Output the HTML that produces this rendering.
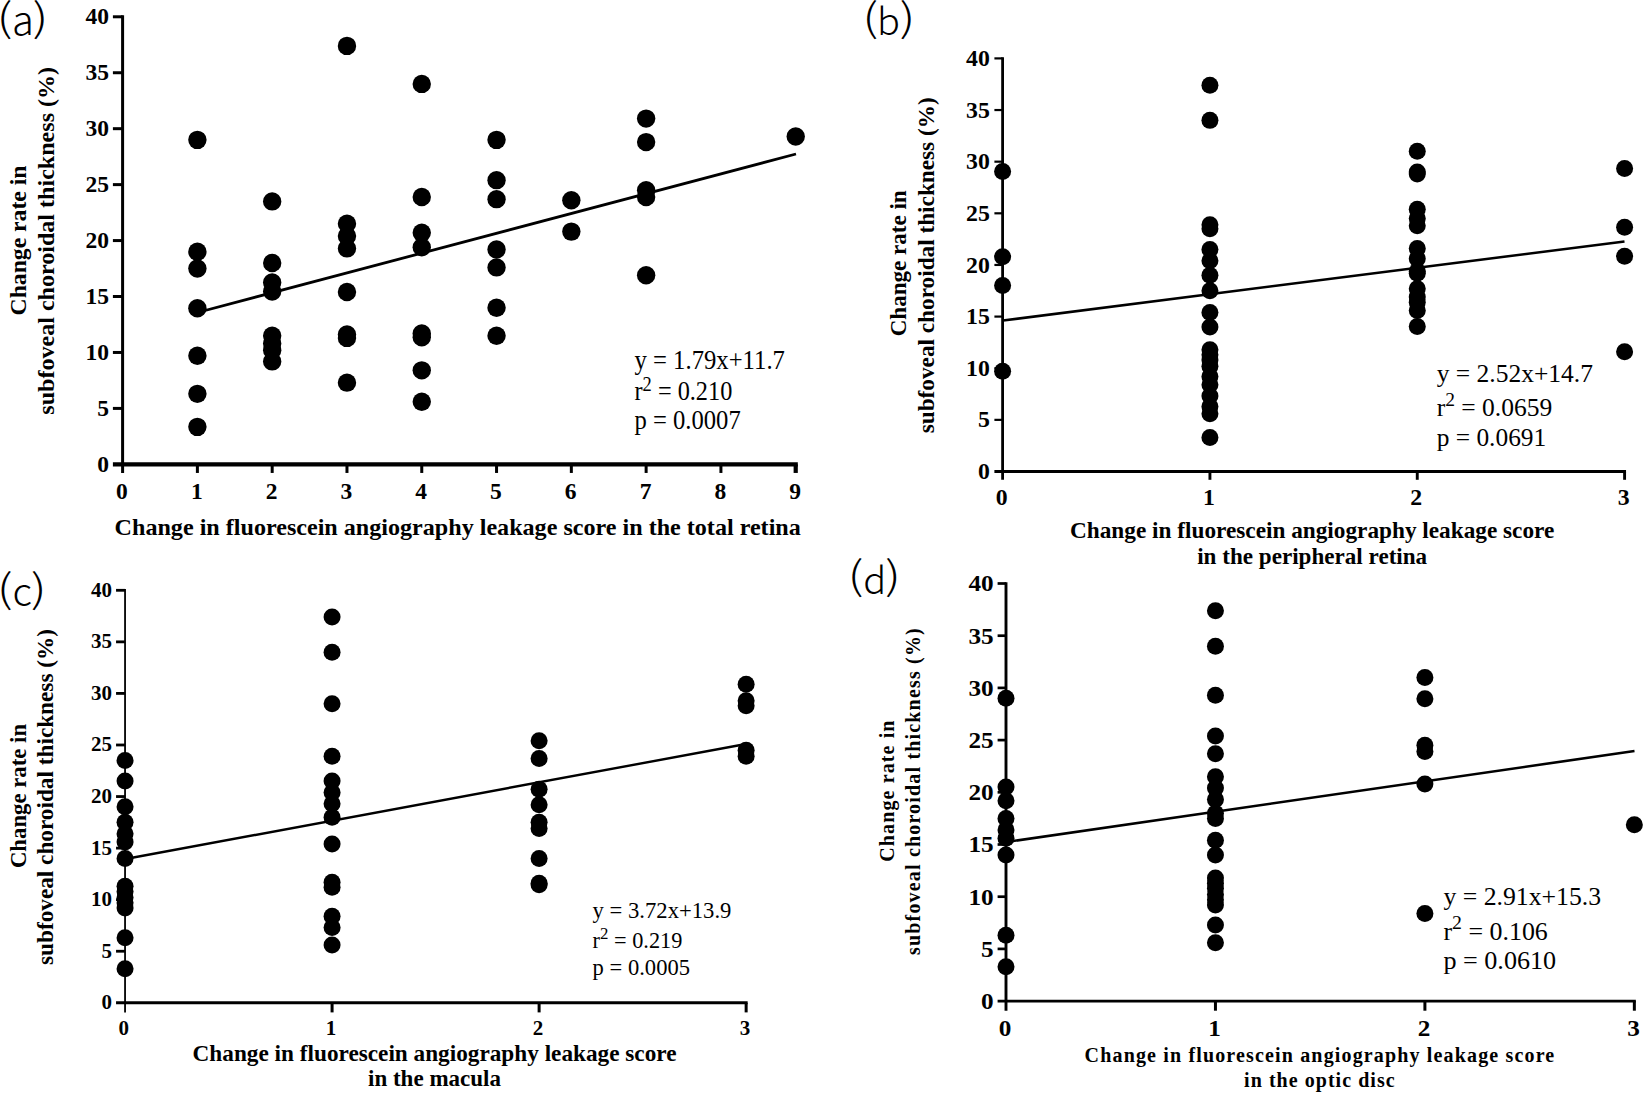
<!DOCTYPE html>
<html lang="en">
<head>
<meta charset="utf-8">
<title>Change rate in subfoveal choroidal thickness vs fluorescein angiography leakage score</title>
<style>
html,body{margin:0;padding:0;background:#fff;}
body{width:1645px;height:1093px;overflow:hidden;}
svg{display:block;}
svg text{font-family:"Liberation Serif", "Times New Roman", serif;fill:#000;}
svg text.tag{font-family:"Noto Sans CJK JP", "Liberation Sans", sans-serif;}
svg line{stroke:#000;fill:none;}
svg circle{fill:#000;}
</style>
</head>
<body>
<svg width="1645" height="1093" viewBox="0 0 1645 1093">
<rect x="0" y="0" width="1645" height="1093" fill="#ffffff"/>
<g id="panel-a">
<line x1="112.90" y1="464.35" x2="797.81" y2="464.35" stroke-width="4.2"/>
<line x1="122.60" y1="15.29" x2="122.60" y2="472.95" stroke-width="3.0"/>
<line x1="112.90" y1="408.41" x2="122.60" y2="408.41" stroke-width="3.0"/>
<line x1="112.90" y1="352.46" x2="122.60" y2="352.46" stroke-width="3.0"/>
<line x1="112.90" y1="296.51" x2="122.60" y2="296.51" stroke-width="3.0"/>
<line x1="112.90" y1="240.57" x2="122.60" y2="240.57" stroke-width="3.0"/>
<line x1="112.90" y1="184.62" x2="122.60" y2="184.62" stroke-width="3.0"/>
<line x1="112.90" y1="128.68" x2="122.60" y2="128.68" stroke-width="3.0"/>
<line x1="112.90" y1="72.74" x2="122.60" y2="72.74" stroke-width="3.0"/>
<line x1="112.90" y1="16.79" x2="122.60" y2="16.79" stroke-width="3.0"/>
<line x1="197.39" y1="464.35" x2="197.39" y2="472.95" stroke-width="3.0"/>
<line x1="272.18" y1="464.35" x2="272.18" y2="472.95" stroke-width="3.0"/>
<line x1="346.97" y1="464.35" x2="346.97" y2="472.95" stroke-width="3.0"/>
<line x1="421.76" y1="464.35" x2="421.76" y2="472.95" stroke-width="3.0"/>
<line x1="496.55" y1="464.35" x2="496.55" y2="472.95" stroke-width="3.0"/>
<line x1="571.34" y1="464.35" x2="571.34" y2="472.95" stroke-width="3.0"/>
<line x1="646.13" y1="464.35" x2="646.13" y2="472.95" stroke-width="3.0"/>
<line x1="720.92" y1="464.35" x2="720.92" y2="472.95" stroke-width="3.0"/>
<line x1="795.71" y1="464.35" x2="795.71" y2="472.95" stroke-width="4.2"/>
<text x="97.15" y="471.55" font-size="23.5" font-weight="bold" textLength="11.75" lengthAdjust="spacingAndGlyphs">0</text>
<text x="97.15" y="415.61" font-size="23.5" font-weight="bold" textLength="11.75" lengthAdjust="spacingAndGlyphs">5</text>
<text x="85.40" y="359.66" font-size="23.5" font-weight="bold" textLength="23.50" lengthAdjust="spacingAndGlyphs">10</text>
<text x="85.40" y="303.71" font-size="23.5" font-weight="bold" textLength="23.50" lengthAdjust="spacingAndGlyphs">15</text>
<text x="85.40" y="247.77" font-size="23.5" font-weight="bold" textLength="23.50" lengthAdjust="spacingAndGlyphs">20</text>
<text x="85.40" y="191.82" font-size="23.5" font-weight="bold" textLength="23.50" lengthAdjust="spacingAndGlyphs">25</text>
<text x="85.40" y="135.88" font-size="23.5" font-weight="bold" textLength="23.50" lengthAdjust="spacingAndGlyphs">30</text>
<text x="85.40" y="79.94" font-size="23.5" font-weight="bold" textLength="23.50" lengthAdjust="spacingAndGlyphs">35</text>
<text x="85.40" y="23.99" font-size="23.5" font-weight="bold" textLength="23.50" lengthAdjust="spacingAndGlyphs">40</text>
<text x="116.12" y="498.80" font-size="23.5" font-weight="bold" textLength="11.75" lengthAdjust="spacingAndGlyphs">0</text>
<text x="190.91" y="498.80" font-size="23.5" font-weight="bold" textLength="11.75" lengthAdjust="spacingAndGlyphs">1</text>
<text x="265.70" y="498.80" font-size="23.5" font-weight="bold" textLength="11.75" lengthAdjust="spacingAndGlyphs">2</text>
<text x="340.50" y="498.80" font-size="23.5" font-weight="bold" textLength="11.75" lengthAdjust="spacingAndGlyphs">3</text>
<text x="415.28" y="498.80" font-size="23.5" font-weight="bold" textLength="11.75" lengthAdjust="spacingAndGlyphs">4</text>
<text x="490.08" y="498.80" font-size="23.5" font-weight="bold" textLength="11.75" lengthAdjust="spacingAndGlyphs">5</text>
<text x="564.87" y="498.80" font-size="23.5" font-weight="bold" textLength="11.75" lengthAdjust="spacingAndGlyphs">6</text>
<text x="639.66" y="498.80" font-size="23.5" font-weight="bold" textLength="11.75" lengthAdjust="spacingAndGlyphs">7</text>
<text x="714.45" y="498.80" font-size="23.5" font-weight="bold" textLength="11.75" lengthAdjust="spacingAndGlyphs">8</text>
<text x="789.24" y="498.80" font-size="23.5" font-weight="bold" textLength="11.75" lengthAdjust="spacingAndGlyphs">9</text>
<circle cx="197.39" cy="139.87" r="9.2"/>
<circle cx="197.39" cy="251.76" r="9.2"/>
<circle cx="197.39" cy="268.54" r="9.2"/>
<circle cx="197.39" cy="308.26" r="9.2"/>
<circle cx="197.39" cy="355.82" r="9.2"/>
<circle cx="197.39" cy="393.86" r="9.2"/>
<circle cx="197.39" cy="426.87" r="9.2"/>
<circle cx="272.18" cy="201.41" r="9.2"/>
<circle cx="272.18" cy="262.95" r="9.2"/>
<circle cx="272.18" cy="282.53" r="9.2"/>
<circle cx="272.18" cy="291.48" r="9.2"/>
<circle cx="272.18" cy="335.68" r="9.2"/>
<circle cx="272.18" cy="343.51" r="9.2"/>
<circle cx="272.18" cy="350.22" r="9.2"/>
<circle cx="272.18" cy="361.41" r="9.2"/>
<circle cx="346.97" cy="45.88" r="9.2"/>
<circle cx="346.97" cy="223.79" r="9.2"/>
<circle cx="346.97" cy="236.09" r="9.2"/>
<circle cx="346.97" cy="248.40" r="9.2"/>
<circle cx="346.97" cy="292.04" r="9.2"/>
<circle cx="346.97" cy="334.56" r="9.2"/>
<circle cx="346.97" cy="337.91" r="9.2"/>
<circle cx="346.97" cy="382.67" r="9.2"/>
<circle cx="421.76" cy="83.92" r="9.2"/>
<circle cx="421.76" cy="196.93" r="9.2"/>
<circle cx="421.76" cy="232.74" r="9.2"/>
<circle cx="421.76" cy="247.28" r="9.2"/>
<circle cx="421.76" cy="333.44" r="9.2"/>
<circle cx="421.76" cy="337.35" r="9.2"/>
<circle cx="421.76" cy="370.36" r="9.2"/>
<circle cx="421.76" cy="401.69" r="9.2"/>
<circle cx="496.55" cy="139.87" r="9.2"/>
<circle cx="496.55" cy="180.15" r="9.2"/>
<circle cx="496.55" cy="199.17" r="9.2"/>
<circle cx="496.55" cy="249.52" r="9.2"/>
<circle cx="496.55" cy="267.42" r="9.2"/>
<circle cx="496.55" cy="307.70" r="9.2"/>
<circle cx="496.55" cy="335.68" r="9.2"/>
<circle cx="571.34" cy="200.29" r="9.2"/>
<circle cx="571.34" cy="231.62" r="9.2"/>
<circle cx="646.13" cy="118.61" r="9.2"/>
<circle cx="646.13" cy="142.11" r="9.2"/>
<circle cx="646.13" cy="190.22" r="9.2"/>
<circle cx="646.13" cy="196.93" r="9.2"/>
<circle cx="646.13" cy="275.26" r="9.2"/>
<circle cx="795.71" cy="136.51" r="9.2"/>
<line x1="197.5" y1="312.5" x2="796" y2="154.0" stroke-width="2.8"/>
<text x="114.60" y="534.80" font-size="24" font-weight="bold" textLength="686.20" lengthAdjust="spacingAndGlyphs">Change in fluorescein angiography leakage score in the total retina</text>
<g transform="translate(26.3,315.4) rotate(-90)"><text x="0.00" y="0.00" font-size="24" font-weight="bold" textLength="149.80" lengthAdjust="spacingAndGlyphs">Change rate in</text></g>
<g transform="translate(54.0,414.7) rotate(-90)"><text x="0.00" y="0.00" font-size="24" font-weight="bold" textLength="347.80" lengthAdjust="spacingAndGlyphs">subfoveal choroidal thickness (%)</text></g>
<text x="634.50" y="369.10" font-size="27" textLength="150.40" lengthAdjust="spacingAndGlyphs">y = 1.79x+11.7</text>
<text x="634.50" y="400.40" font-size="27" textLength="97.80" lengthAdjust="spacingAndGlyphs">r<tspan dy="-9.6" font-size="20.5">2</tspan><tspan dy="9.6"> = 0.210</tspan></text>
<text x="634.50" y="429.30" font-size="27" textLength="106.20" lengthAdjust="spacingAndGlyphs">p = 0.0007</text>
<text class="tag" y="34.6" font-size="40" font-weight="300"><tspan x="-3.4" y="31.7" font-size="39" textLength="16.0" lengthAdjust="spacingAndGlyphs">(</tspan><tspan x="11.95" y="34.6">a</tspan><tspan x="32.4" y="31.7" font-size="39" textLength="16.0" lengthAdjust="spacingAndGlyphs">)</tspan></text>
</g>
<g id="panel-b">
<line x1="994.40" y1="471.50" x2="1626.04" y2="471.50" stroke-width="2.8"/>
<line x1="1002.60" y1="57.30" x2="1002.60" y2="479.80" stroke-width="2.8"/>
<line x1="994.40" y1="419.86" x2="1002.60" y2="419.86" stroke-width="2.2"/>
<line x1="994.40" y1="368.23" x2="1002.60" y2="368.23" stroke-width="2.2"/>
<line x1="994.40" y1="316.59" x2="1002.60" y2="316.59" stroke-width="2.2"/>
<line x1="994.40" y1="264.95" x2="1002.60" y2="264.95" stroke-width="2.2"/>
<line x1="994.40" y1="213.31" x2="1002.60" y2="213.31" stroke-width="2.2"/>
<line x1="994.40" y1="161.67" x2="1002.60" y2="161.67" stroke-width="2.2"/>
<line x1="994.40" y1="110.04" x2="1002.60" y2="110.04" stroke-width="2.2"/>
<line x1="994.40" y1="58.40" x2="1002.60" y2="58.40" stroke-width="2.2"/>
<line x1="1209.93" y1="471.50" x2="1209.93" y2="479.80" stroke-width="2.9"/>
<line x1="1417.26" y1="471.50" x2="1417.26" y2="479.80" stroke-width="2.9"/>
<line x1="1624.59" y1="471.50" x2="1624.59" y2="479.80" stroke-width="2.9"/>
<text x="978.00" y="479.05" font-size="23.8" font-weight="bold" textLength="11.90" lengthAdjust="spacingAndGlyphs">0</text>
<text x="978.00" y="427.41" font-size="23.8" font-weight="bold" textLength="11.90" lengthAdjust="spacingAndGlyphs">5</text>
<text x="966.10" y="375.78" font-size="23.8" font-weight="bold" textLength="23.80" lengthAdjust="spacingAndGlyphs">10</text>
<text x="966.10" y="324.14" font-size="23.8" font-weight="bold" textLength="23.80" lengthAdjust="spacingAndGlyphs">15</text>
<text x="966.10" y="272.50" font-size="23.8" font-weight="bold" textLength="23.80" lengthAdjust="spacingAndGlyphs">20</text>
<text x="966.10" y="220.86" font-size="23.8" font-weight="bold" textLength="23.80" lengthAdjust="spacingAndGlyphs">25</text>
<text x="966.10" y="169.22" font-size="23.8" font-weight="bold" textLength="23.80" lengthAdjust="spacingAndGlyphs">30</text>
<text x="966.10" y="117.59" font-size="23.8" font-weight="bold" textLength="23.80" lengthAdjust="spacingAndGlyphs">35</text>
<text x="966.10" y="65.95" font-size="23.8" font-weight="bold" textLength="23.80" lengthAdjust="spacingAndGlyphs">40</text>
<text x="995.65" y="505.10" font-size="23.8" font-weight="bold" textLength="11.90" lengthAdjust="spacingAndGlyphs">0</text>
<text x="1202.98" y="505.10" font-size="23.8" font-weight="bold" textLength="11.90" lengthAdjust="spacingAndGlyphs">1</text>
<text x="1410.31" y="505.10" font-size="23.8" font-weight="bold" textLength="11.90" lengthAdjust="spacingAndGlyphs">2</text>
<text x="1617.64" y="505.10" font-size="23.8" font-weight="bold" textLength="11.90" lengthAdjust="spacingAndGlyphs">3</text>
<circle cx="1002.60" cy="171.49" r="8.5"/>
<circle cx="1002.60" cy="256.69" r="8.5"/>
<circle cx="1002.60" cy="285.61" r="8.5"/>
<circle cx="1002.60" cy="371.32" r="8.5"/>
<circle cx="1209.93" cy="85.25" r="8.5"/>
<circle cx="1209.93" cy="120.37" r="8.5"/>
<circle cx="1209.93" cy="224.67" r="8.5"/>
<circle cx="1209.93" cy="228.80" r="8.5"/>
<circle cx="1209.93" cy="249.46" r="8.5"/>
<circle cx="1209.93" cy="260.82" r="8.5"/>
<circle cx="1209.93" cy="275.28" r="8.5"/>
<circle cx="1209.93" cy="290.77" r="8.5"/>
<circle cx="1209.93" cy="312.46" r="8.5"/>
<circle cx="1209.93" cy="326.91" r="8.5"/>
<circle cx="1209.93" cy="349.64" r="8.5"/>
<circle cx="1209.93" cy="354.80" r="8.5"/>
<circle cx="1209.93" cy="359.96" r="8.5"/>
<circle cx="1209.93" cy="366.16" r="8.5"/>
<circle cx="1209.93" cy="376.49" r="8.5"/>
<circle cx="1209.93" cy="384.75" r="8.5"/>
<circle cx="1209.93" cy="396.11" r="8.5"/>
<circle cx="1209.93" cy="406.44" r="8.5"/>
<circle cx="1209.93" cy="413.67" r="8.5"/>
<circle cx="1209.93" cy="437.42" r="8.5"/>
<circle cx="1417.26" cy="151.35" r="8.5"/>
<circle cx="1417.26" cy="172.00" r="8.5"/>
<circle cx="1417.26" cy="174.07" r="8.5"/>
<circle cx="1417.26" cy="209.18" r="8.5"/>
<circle cx="1417.26" cy="218.48" r="8.5"/>
<circle cx="1417.26" cy="225.71" r="8.5"/>
<circle cx="1417.26" cy="248.43" r="8.5"/>
<circle cx="1417.26" cy="258.75" r="8.5"/>
<circle cx="1417.26" cy="271.15" r="8.5"/>
<circle cx="1417.26" cy="273.21" r="8.5"/>
<circle cx="1417.26" cy="288.70" r="8.5"/>
<circle cx="1417.26" cy="296.97" r="8.5"/>
<circle cx="1417.26" cy="302.13" r="8.5"/>
<circle cx="1417.26" cy="310.39" r="8.5"/>
<circle cx="1417.26" cy="326.40" r="8.5"/>
<circle cx="1624.59" cy="168.39" r="8.5"/>
<circle cx="1624.59" cy="227.25" r="8.5"/>
<circle cx="1624.59" cy="256.17" r="8.5"/>
<circle cx="1624.59" cy="351.70" r="8.5"/>
<line x1="1003" y1="320.5" x2="1624.5" y2="241.5" stroke-width="2.6"/>
<text x="1070.00" y="538.40" font-size="23.2" font-weight="bold" textLength="484.30" lengthAdjust="spacingAndGlyphs">Change in fluorescein angiography leakage score</text>
<text x="1197.20" y="563.70" font-size="23.2" font-weight="bold" textLength="230.00" lengthAdjust="spacingAndGlyphs">in the peripheral retina</text>
<g transform="translate(906.1,336.3) rotate(-90)"><text x="0.00" y="0.00" font-size="23.2" font-weight="bold" textLength="146.00" lengthAdjust="spacingAndGlyphs">Change rate in</text></g>
<g transform="translate(933.5,433.3) rotate(-90)"><text x="0.00" y="0.00" font-size="23.2" font-weight="bold" textLength="336.00" lengthAdjust="spacingAndGlyphs">subfoveal choroidal thickness (%)</text></g>
<text x="1436.70" y="382.30" font-size="25.5" textLength="156.20" lengthAdjust="spacingAndGlyphs">y = 2.52x+14.7</text>
<text x="1436.70" y="416.20" font-size="25.5" textLength="115.60" lengthAdjust="spacingAndGlyphs">r<tspan dy="-9.8" font-size="19.5">2</tspan><tspan dy="9.8"> = 0.0659</tspan></text>
<text x="1436.70" y="445.70" font-size="25.5" textLength="109.60" lengthAdjust="spacingAndGlyphs">p = 0.0691</text>
<text class="tag" y="34.6" font-size="38" font-weight="300"><tspan x="862.2" y="31.7" font-size="39" textLength="16.0" lengthAdjust="spacingAndGlyphs">(</tspan><tspan x="877.1" y="34.6">b</tspan><tspan x="899.4" y="31.7" font-size="39" textLength="16.0" lengthAdjust="spacingAndGlyphs">)</tspan></text>
</g>
<g id="panel-c">
<line x1="116.05" y1="1002.80" x2="747.64" y2="1002.80" stroke-width="2.9"/>
<line x1="125.05" y1="588.90" x2="125.05" y2="1012.40" stroke-width="1.8"/>
<line x1="116.05" y1="951.24" x2="125.05" y2="951.24" stroke-width="2.8"/>
<line x1="116.05" y1="899.67" x2="125.05" y2="899.67" stroke-width="2.8"/>
<line x1="116.05" y1="848.11" x2="125.05" y2="848.11" stroke-width="2.8"/>
<line x1="116.05" y1="796.55" x2="125.05" y2="796.55" stroke-width="2.8"/>
<line x1="116.05" y1="744.99" x2="125.05" y2="744.99" stroke-width="2.8"/>
<line x1="116.05" y1="693.42" x2="125.05" y2="693.42" stroke-width="2.8"/>
<line x1="116.05" y1="641.86" x2="125.05" y2="641.86" stroke-width="2.8"/>
<line x1="116.05" y1="590.30" x2="125.05" y2="590.30" stroke-width="2.8"/>
<line x1="332.08" y1="1002.80" x2="332.08" y2="1012.40" stroke-width="3.0"/>
<line x1="539.11" y1="1002.80" x2="539.11" y2="1012.40" stroke-width="3.0"/>
<line x1="746.14" y1="1002.80" x2="746.14" y2="1012.40" stroke-width="3.0"/>
<text x="101.50" y="1009.20" font-size="21.6" font-weight="bold" textLength="10.50" lengthAdjust="spacingAndGlyphs">0</text>
<text x="101.50" y="957.64" font-size="21.6" font-weight="bold" textLength="10.50" lengthAdjust="spacingAndGlyphs">5</text>
<text x="91.00" y="906.07" font-size="21.6" font-weight="bold" textLength="21.00" lengthAdjust="spacingAndGlyphs">10</text>
<text x="91.00" y="854.51" font-size="21.6" font-weight="bold" textLength="21.00" lengthAdjust="spacingAndGlyphs">15</text>
<text x="91.00" y="802.95" font-size="21.6" font-weight="bold" textLength="21.00" lengthAdjust="spacingAndGlyphs">20</text>
<text x="91.00" y="751.39" font-size="21.6" font-weight="bold" textLength="21.00" lengthAdjust="spacingAndGlyphs">25</text>
<text x="91.00" y="699.82" font-size="21.6" font-weight="bold" textLength="21.00" lengthAdjust="spacingAndGlyphs">30</text>
<text x="91.00" y="648.26" font-size="21.6" font-weight="bold" textLength="21.00" lengthAdjust="spacingAndGlyphs">35</text>
<text x="91.00" y="596.70" font-size="21.6" font-weight="bold" textLength="21.00" lengthAdjust="spacingAndGlyphs">40</text>
<text x="118.60" y="1034.80" font-size="21.6" font-weight="bold" textLength="10.50" lengthAdjust="spacingAndGlyphs">0</text>
<text x="325.63" y="1034.80" font-size="21.6" font-weight="bold" textLength="10.50" lengthAdjust="spacingAndGlyphs">1</text>
<text x="532.66" y="1034.80" font-size="21.6" font-weight="bold" textLength="10.50" lengthAdjust="spacingAndGlyphs">2</text>
<text x="739.69" y="1034.80" font-size="21.6" font-weight="bold" textLength="10.50" lengthAdjust="spacingAndGlyphs">3</text>
<circle cx="125.05" cy="760.46" r="8.5"/>
<circle cx="125.05" cy="781.08" r="8.5"/>
<circle cx="125.05" cy="806.86" r="8.5"/>
<circle cx="125.05" cy="822.33" r="8.5"/>
<circle cx="125.05" cy="833.67" r="8.5"/>
<circle cx="125.05" cy="841.92" r="8.5"/>
<circle cx="125.05" cy="858.42" r="8.5"/>
<circle cx="125.05" cy="886.27" r="8.5"/>
<circle cx="125.05" cy="891.42" r="8.5"/>
<circle cx="125.05" cy="897.61" r="8.5"/>
<circle cx="125.05" cy="902.77" r="8.5"/>
<circle cx="125.05" cy="907.92" r="8.5"/>
<circle cx="125.05" cy="937.83" r="8.5"/>
<circle cx="125.05" cy="968.77" r="8.5"/>
<circle cx="332.08" cy="617.11" r="8.5"/>
<circle cx="332.08" cy="652.17" r="8.5"/>
<circle cx="332.08" cy="703.74" r="8.5"/>
<circle cx="332.08" cy="756.33" r="8.5"/>
<circle cx="332.08" cy="781.08" r="8.5"/>
<circle cx="332.08" cy="792.42" r="8.5"/>
<circle cx="332.08" cy="803.77" r="8.5"/>
<circle cx="332.08" cy="817.17" r="8.5"/>
<circle cx="332.08" cy="843.99" r="8.5"/>
<circle cx="332.08" cy="882.14" r="8.5"/>
<circle cx="332.08" cy="887.30" r="8.5"/>
<circle cx="332.08" cy="916.17" r="8.5"/>
<circle cx="332.08" cy="927.52" r="8.5"/>
<circle cx="332.08" cy="945.05" r="8.5"/>
<circle cx="539.11" cy="740.86" r="8.5"/>
<circle cx="539.11" cy="758.39" r="8.5"/>
<circle cx="539.11" cy="789.33" r="8.5"/>
<circle cx="539.11" cy="804.80" r="8.5"/>
<circle cx="539.11" cy="822.33" r="8.5"/>
<circle cx="539.11" cy="828.52" r="8.5"/>
<circle cx="539.11" cy="858.42" r="8.5"/>
<circle cx="539.11" cy="883.17" r="8.5"/>
<circle cx="539.11" cy="884.72" r="8.5"/>
<circle cx="746.14" cy="684.14" r="8.5"/>
<circle cx="746.14" cy="700.64" r="8.5"/>
<circle cx="746.14" cy="705.80" r="8.5"/>
<circle cx="746.14" cy="750.14" r="8.5"/>
<circle cx="746.14" cy="756.33" r="8.5"/>
<line x1="125.3" y1="859" x2="746" y2="744" stroke-width="2.4"/>
<text x="192.60" y="1061.10" font-size="23.2" font-weight="bold" textLength="483.90" lengthAdjust="spacingAndGlyphs">Change in fluorescein angiography leakage score</text>
<text x="368.00" y="1086.40" font-size="23.2" font-weight="bold" textLength="133.00" lengthAdjust="spacingAndGlyphs">in the macula</text>
<g transform="translate(25.8,868.1) rotate(-90)"><text x="0.00" y="0.00" font-size="23.2" font-weight="bold" textLength="144.20" lengthAdjust="spacingAndGlyphs">Change rate in</text></g>
<g transform="translate(53.2,965.0) rotate(-90)"><text x="0.00" y="0.00" font-size="23.2" font-weight="bold" textLength="336.00" lengthAdjust="spacingAndGlyphs">subfoveal choroidal thickness (%)</text></g>
<text x="592.60" y="918.40" font-size="23.2" textLength="138.80" lengthAdjust="spacingAndGlyphs">y = 3.72x+13.9</text>
<text x="592.60" y="947.60" font-size="23.2" textLength="89.80" lengthAdjust="spacingAndGlyphs">r<tspan dy="-8.9" font-size="17.5">2</tspan><tspan dy="8.9"> = 0.219</tspan></text>
<text x="592.60" y="974.90" font-size="23.2" textLength="97.40" lengthAdjust="spacingAndGlyphs">p = 0.0005</text>
<text class="tag" y="606.3" font-size="39" font-weight="300"><tspan x="-3.3" y="603.4" font-size="39" textLength="16.0" lengthAdjust="spacingAndGlyphs">(</tspan><tspan x="12.6" y="606.3">c</tspan><tspan x="30.85" y="603.4" font-size="39" textLength="16.0" lengthAdjust="spacingAndGlyphs">)</tspan></text>
</g>
<g id="panel-d">
<line x1="997.60" y1="1001.10" x2="1635.85" y2="1001.10" stroke-width="2.9"/>
<line x1="1006.00" y1="582.15" x2="1006.00" y2="1010.70" stroke-width="2.9"/>
<line x1="997.60" y1="948.90" x2="1006.00" y2="948.90" stroke-width="2.7"/>
<line x1="997.60" y1="896.70" x2="1006.00" y2="896.70" stroke-width="2.7"/>
<line x1="997.60" y1="844.50" x2="1006.00" y2="844.50" stroke-width="2.7"/>
<line x1="997.60" y1="792.30" x2="1006.00" y2="792.30" stroke-width="2.7"/>
<line x1="997.60" y1="740.10" x2="1006.00" y2="740.10" stroke-width="2.7"/>
<line x1="997.60" y1="687.90" x2="1006.00" y2="687.90" stroke-width="2.7"/>
<line x1="997.60" y1="635.70" x2="1006.00" y2="635.70" stroke-width="2.7"/>
<line x1="997.60" y1="583.50" x2="1006.00" y2="583.50" stroke-width="2.7"/>
<line x1="1215.45" y1="1001.10" x2="1215.45" y2="1010.70" stroke-width="3.0"/>
<line x1="1424.90" y1="1001.10" x2="1424.90" y2="1010.70" stroke-width="3.0"/>
<line x1="1634.35" y1="1001.10" x2="1634.35" y2="1010.70" stroke-width="3.0"/>
<text x="981.00" y="1009.05" font-size="24" font-weight="bold" textLength="12.60" lengthAdjust="spacingAndGlyphs">0</text>
<text x="981.00" y="956.85" font-size="24" font-weight="bold" textLength="12.60" lengthAdjust="spacingAndGlyphs">5</text>
<text x="968.40" y="904.65" font-size="24" font-weight="bold" textLength="25.20" lengthAdjust="spacingAndGlyphs">10</text>
<text x="968.40" y="852.45" font-size="24" font-weight="bold" textLength="25.20" lengthAdjust="spacingAndGlyphs">15</text>
<text x="968.40" y="800.25" font-size="24" font-weight="bold" textLength="25.20" lengthAdjust="spacingAndGlyphs">20</text>
<text x="968.40" y="748.05" font-size="24" font-weight="bold" textLength="25.20" lengthAdjust="spacingAndGlyphs">25</text>
<text x="968.40" y="695.85" font-size="24" font-weight="bold" textLength="25.20" lengthAdjust="spacingAndGlyphs">30</text>
<text x="968.40" y="643.65" font-size="24" font-weight="bold" textLength="25.20" lengthAdjust="spacingAndGlyphs">35</text>
<text x="968.40" y="591.45" font-size="24" font-weight="bold" textLength="25.20" lengthAdjust="spacingAndGlyphs">40</text>
<text x="998.80" y="1036.10" font-size="24" font-weight="bold" textLength="12.60" lengthAdjust="spacingAndGlyphs">0</text>
<text x="1208.25" y="1036.10" font-size="24" font-weight="bold" textLength="12.60" lengthAdjust="spacingAndGlyphs">1</text>
<text x="1417.70" y="1036.10" font-size="24" font-weight="bold" textLength="12.60" lengthAdjust="spacingAndGlyphs">2</text>
<text x="1627.15" y="1036.10" font-size="24" font-weight="bold" textLength="12.60" lengthAdjust="spacingAndGlyphs">3</text>
<circle cx="1006.00" cy="698.34" r="8.5"/>
<circle cx="1006.00" cy="787.08" r="8.5"/>
<circle cx="1006.00" cy="800.65" r="8.5"/>
<circle cx="1006.00" cy="818.40" r="8.5"/>
<circle cx="1006.00" cy="829.88" r="8.5"/>
<circle cx="1006.00" cy="838.24" r="8.5"/>
<circle cx="1006.00" cy="854.94" r="8.5"/>
<circle cx="1006.00" cy="935.33" r="8.5"/>
<circle cx="1006.00" cy="966.65" r="8.5"/>
<circle cx="1215.45" cy="610.64" r="8.5"/>
<circle cx="1215.45" cy="646.14" r="8.5"/>
<circle cx="1215.45" cy="695.21" r="8.5"/>
<circle cx="1215.45" cy="735.92" r="8.5"/>
<circle cx="1215.45" cy="753.67" r="8.5"/>
<circle cx="1215.45" cy="776.64" r="8.5"/>
<circle cx="1215.45" cy="788.12" r="8.5"/>
<circle cx="1215.45" cy="799.61" r="8.5"/>
<circle cx="1215.45" cy="813.18" r="8.5"/>
<circle cx="1215.45" cy="818.40" r="8.5"/>
<circle cx="1215.45" cy="840.32" r="8.5"/>
<circle cx="1215.45" cy="854.94" r="8.5"/>
<circle cx="1215.45" cy="877.91" r="8.5"/>
<circle cx="1215.45" cy="883.13" r="8.5"/>
<circle cx="1215.45" cy="888.35" r="8.5"/>
<circle cx="1215.45" cy="894.61" r="8.5"/>
<circle cx="1215.45" cy="899.83" r="8.5"/>
<circle cx="1215.45" cy="905.05" r="8.5"/>
<circle cx="1215.45" cy="924.89" r="8.5"/>
<circle cx="1215.45" cy="942.64" r="8.5"/>
<circle cx="1424.90" cy="677.46" r="8.5"/>
<circle cx="1424.90" cy="698.86" r="8.5"/>
<circle cx="1424.90" cy="745.32" r="8.5"/>
<circle cx="1424.90" cy="751.58" r="8.5"/>
<circle cx="1424.90" cy="783.95" r="8.5"/>
<circle cx="1424.90" cy="913.40" r="8.5"/>
<circle cx="1634.35" cy="824.66" r="8.5"/>
<line x1="1006.3" y1="842" x2="1634.5" y2="751" stroke-width="2.6"/>
<text x="1084.60" y="1062.20" font-size="20" font-weight="bold" textLength="469.60" lengthAdjust="spacing">Change in fluorescein angiography leakage score</text>
<text x="1244.10" y="1086.70" font-size="20" font-weight="bold" textLength="150.50" lengthAdjust="spacing">in the optic disc</text>
<g transform="translate(894.3,861.7) rotate(-90)"><text x="0.00" y="0.00" font-size="20" font-weight="bold" textLength="141.20" lengthAdjust="spacing">Change rate in</text></g>
<g transform="translate(919.5,955.0) rotate(-90)"><text x="0.00" y="0.00" font-size="20" font-weight="bold" textLength="326.80" lengthAdjust="spacing">subfoveal choroidal thickness (%)</text></g>
<text x="1443.40" y="905.10" font-size="25.5" textLength="157.80" lengthAdjust="spacingAndGlyphs">y = 2.91x+15.3</text>
<text x="1443.40" y="939.60" font-size="25.5" textLength="104.40" lengthAdjust="spacingAndGlyphs">r<tspan dy="-10.2" font-size="19.5">2</tspan><tspan dy="10.2"> = 0.106</tspan></text>
<text x="1443.40" y="968.60" font-size="25.5" textLength="112.80" lengthAdjust="spacingAndGlyphs">p = 0.0610</text>
<text class="tag" y="594.0" font-size="38" font-weight="300"><tspan x="847.6" y="590.4" font-size="39" textLength="16.0" lengthAdjust="spacingAndGlyphs">(</tspan><tspan x="863.2" y="594.0">d</tspan><tspan x="885.0" y="590.4" font-size="39" textLength="16.0" lengthAdjust="spacingAndGlyphs">)</tspan></text>
</g>
</svg>
</body>
</html>
